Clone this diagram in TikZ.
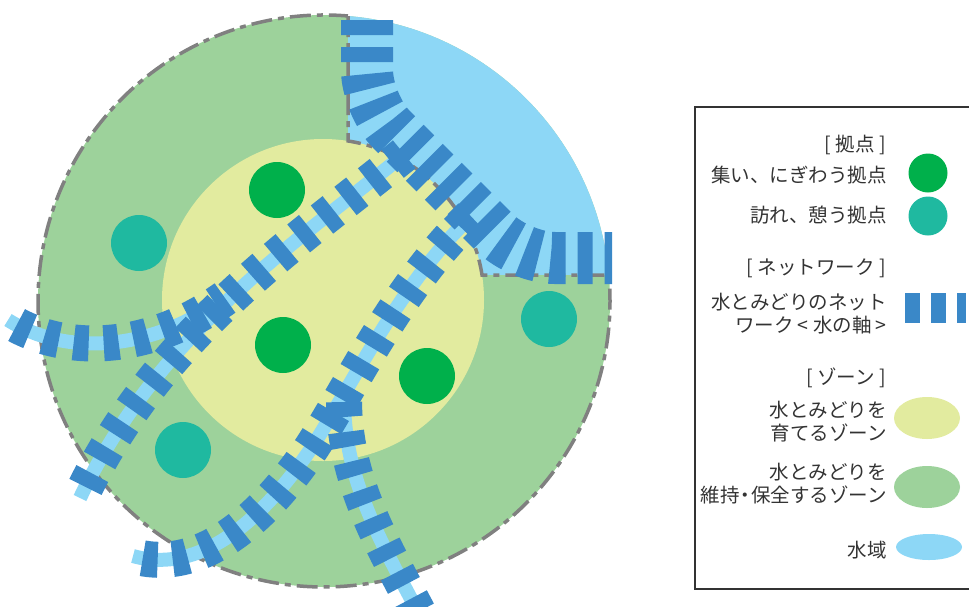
\documentclass[tikz,border=0pt]{standalone}
\usepackage{fontspec}
\usepackage{xcolor}
\newfontfamily\jpfont{Noto Sans CJK JP}
\definecolor{zonegreen}{HTML}{9DD29B}
\definecolor{zoneyellow}{HTML}{E2EB9F}
\definecolor{waterblue}{HTML}{8DD7F6}
\definecolor{axisblue}{HTML}{3A88C8}
\definecolor{hubgreen}{HTML}{00B04B}
\definecolor{hubteal}{HTML}{1FB9A0}
\definecolor{lgtext}{HTML}{333333}
\newcommand\lgfont{\jpfont\fontsize{19.5}{23}\selectfont}

\begin{document}
\begin{tikzpicture}[x=1pt,y=-1pt,
    axisbars/.style={axisblue,line width=36pt,dash pattern=on 15pt off 15pt,dash phase=20pt},
    axisline/.style={waterblue,line width=14pt},
    lgitem/.style={anchor=east,inner sep=0pt,text=lgtext,font=\lgfont,align=right}]
\useasboundingbox (0,0) rectangle (969,606);
\clip (0,0) rectangle (969,606);

\fill[zonegreen] (324,301) circle (286);
\begin{scope}
  \clip (324,301) circle (286);
  \fill[waterblue] (348,0) rectangle (620,275);
\end{scope}
\fill[zoneyellow] (323,300) circle (161);
\draw[black!50,line width=3.5pt,dash pattern=on 21pt off 6pt on 6pt off 6pt]
  (348,16) -- (348,140.95) arc[start angle=-81.07,end angle=-8.93,radius=161]
  -- (608.8,275) arc[start angle=-5.21,end angle=274.8,radius=286];

\fill[hubgreen] (277,190) circle (28);
\fill[hubgreen] (283,345) circle (28);
\fill[hubgreen] (427,376) circle (28);
\fill[hubteal] (139,243) circle (28);
\fill[hubteal] (549,319) circle (28);
\fill[hubteal] (183,450) circle (28);

\draw[axisline] (412,148) .. controls (300,240) and (160,330) .. (80,498);
\draw[axisline] (8,320) .. controls (65,356) and (150,352) .. (225,298);
\draw[axisline] (133,556) .. controls (200,575) and (262,520) .. (310,450)
  .. controls (350,390) and (400,280) .. (478,210);
\draw[axisline] (344,402) .. controls (345,480) and (380,540) .. (418,612);

\draw[axisblue,line width=52pt,dash pattern=on 15pt off 12pt,rounded corners=35pt]
  (367,20) -- (367,105) -- (520,258) -- (612,258);
\draw[axisbars] (412,148) .. controls (300,240) and (160,330) .. (80,498);
\draw[axisbars] (8,320) .. controls (65,356) and (150,352) .. (225,298);
\draw[axisbars] (133,556) .. controls (200,575) and (262,520) .. (310,450)
  .. controls (350,390) and (400,280) .. (478,210);
\draw[axisbars,dash phase=0pt] (344,402) .. controls (345,480) and (380,540) .. (418,612);

\draw[lgtext,line width=2pt] (695,107) rectangle (990,589);
\node[lgitem] (hdhub) at (886,145) {[ 拠点 ]};
\node[lgitem] (hubbig) at (887,175) {集い、にぎわう拠点};
\node[lgitem] (hubsmall) at (887,215) {訪れ、憩う拠点};
\node[lgitem] (hdnet) at (886,268) {[ ネットワーク ]};
\node[lgitem] (netaxis) at (887,313.5) {水とみどりのネット\\ワーク < 水の軸 >};
\node[lgitem] (hdzone) at (886,378) {[ ゾーン ]};
\node[lgitem] (zonegrow) at (887,421.5) {水とみどりを\\育てるゾーン};
\node[lgitem] (zonekeep) at (887,483.5) {水とみどりを\\維持\kern-4pt・\kern-4pt保全するゾーン};
\node[lgitem] (waterarea) at (887,550) {水域};

\fill[hubgreen] (928,173) circle (19.5);
\fill[hubteal] (928,216) circle (19.5);
\draw[axisblue,line width=30pt,dash pattern=on 15pt off 11pt] (905,308) -- (966,308);
\fill[zoneyellow] (927,418) ellipse (33 and 21);
\fill[zonegreen] (927,487) ellipse (33 and 21);
\fill[waterblue] (929,547) ellipse (33 and 13);
\end{tikzpicture}
\end{document}
